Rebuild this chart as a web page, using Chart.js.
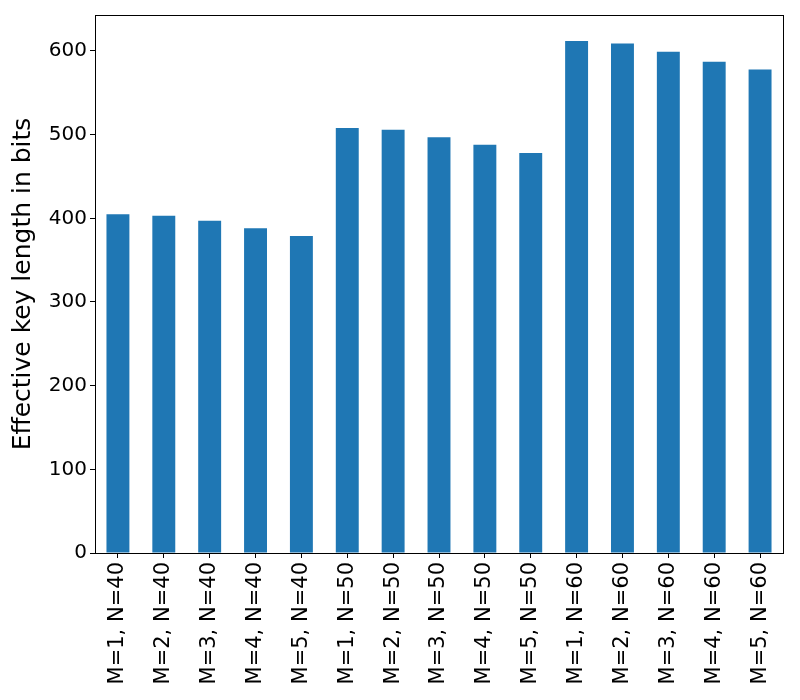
<!DOCTYPE html>
<html>
<head>
<meta charset="utf-8">
<script src="https://cdn.jsdelivr.net/npm/chart.js@4"></script>
<style>
  html, body { margin: 0; padding: 0; background: #fff; }
  #wrap { width: 800px; height: 700px; }
</style>
</head>
<body>
<div id="wrap"><canvas id="c" width="800" height="700"></canvas></div>
<script>
const labels = [
  'M=1, N=40', 'M=2, N=40', 'M=3, N=40', 'M=4, N=40', 'M=5, N=40',
  'M=1, N=50', 'M=2, N=50', 'M=3, N=50', 'M=4, N=50', 'M=5, N=50',
  'M=1, N=60', 'M=2, N=60', 'M=3, N=60', 'M=4, N=60', 'M=5, N=60'
];
const keyBits = [405, 403, 397, 388, 379, 508, 506, 497, 488, 478, 612, 609, 599, 587, 578];
const yTicks = [0, 100, 200, 300, 400, 500, 600];

// full box around the plot area, like matplotlib spines
const frame = {
  id: 'frame',
  afterDraw(chart) {
    const { ctx, chartArea: a } = chart;
    ctx.save();
    ctx.strokeStyle = '#000';
    ctx.lineWidth = 1;
    ctx.strokeRect(a.left + 0.5, a.top + 0.5, a.right - a.left, a.bottom - a.top);
    ctx.restore();
  }
};

new Chart(document.getElementById('c'), {
  type: 'bar',
  data: {
    labels: labels,
    datasets: [{
      data: keyBits,
      backgroundColor: '#1f77b4',
      categoryPercentage: 1,
      barPercentage: 0.5
    }]
  },
  options: {
    responsive: false,
    animation: false,
    layout: { padding: { top: 15, right: 17, left: 0, bottom: 0 } },
    plugins: { legend: { display: false }, tooltip: { enabled: false } },
    scales: {
      x: {
        grid: { display: true, offset: false, drawOnChartArea: false, color: '#000', tickLength: 5 },
        border: { color: '#000' },
        ticks: {
          color: '#000',
          font: { family: 'DejaVu Sans', size: 21 },
          minRotation: 90, maxRotation: 90, autoSkip: false, padding: 4
        },
        afterFit(s) { s.height = 147; }
      },
      y: {
        min: 0,
        max: 643,
        afterBuildTicks(s) { s.ticks = yTicks.map(v => ({ value: v })); },
        grid: { display: true, drawOnChartArea: false, color: '#000', tickLength: 5 },
        border: { color: '#000' },
        ticks: { color: '#000', font: { family: 'DejaVu Sans', size: 20 }, padding: 3 },
        title: {
          display: true,
          text: 'Effective key length in bits',
          color: '#000',
          font: { family: 'DejaVu Sans', size: 25 },
          padding: { top: 8, bottom: 6 }
        },
        afterFit(s) { s.width = 95; }
      }
    }
  },
  plugins: [frame]
});
</script>
</body>
</html>
